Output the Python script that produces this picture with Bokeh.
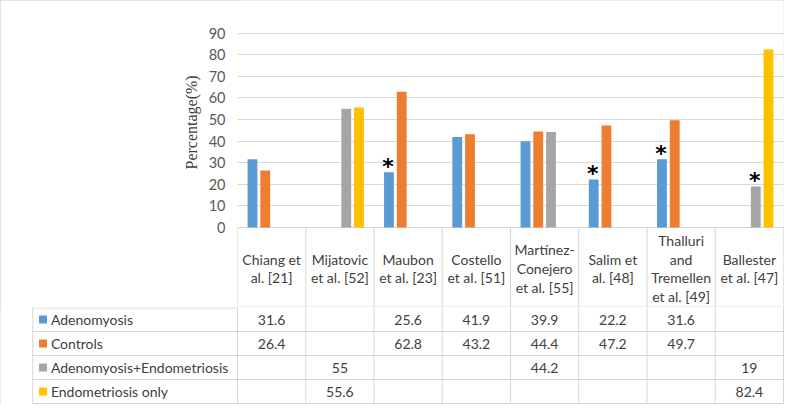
from bokeh.plotting import figure
from bokeh.models import Range1d, FixedTicker, Title
from bokeh.layouts import column
from bokeh.embed import file_html
from bokeh.resources import INLINE
from bokeh.core.properties import value

# ---------------- data ----------------
categories = [
    "Chiang et\nal. [21]",
    "Mijatovic\net al. [52]",
    "Maubon\net al. [23]",
    "Costello\net al. [51]",
    "Martínez-\nConejero\net al. [55]",
    "Salim et\nal. [48]",
    "Thalluri\nand\nTremellen\net al. [49]",
    "Ballester\net al. [47]",
]
series_names = ["Adenomyosis", "Controls", "Adenomyosis+Endometriosis", "Endometriosis only"]
adenomyosis = [31.6, None, 25.6, 41.9, 39.9, 22.2, 31.6, None]
controls = [26.4, None, 62.8, 43.2, 44.4, 47.2, 49.7, None]
adeno_endo = [None, 55, None, None, 44.2, None, None, 19]
endo_only = [None, 55.6, None, None, None, None, None, 82.4]
y_ticks = [0, 10, 20, 30, 40, 50, 60, 70, 80, 90]
sig_categories = [2, 5, 6, 7]
sig_series = [0, 0, 0, 2]

# ---------------- styling / layout constants ----------------
series_values = [adenomyosis, controls, adeno_endo, endo_only]
colors = ["#5B9BD5", "#ED7D31", "#A5A5A5", "#FFC000"]
FONT = "Lato"
TXT = "#404040"
LINE = "#D6D6D6"

W, H = 784, 404
LEFT = 237
n = len(categories)
FRAME_W = W - LEFT - 1
UX = FRAME_W / n
H0 = 227            # pixels from top to zero line
HEADER_PX = 80      # pixel height of the category header row
H1 = H0 + HEADER_PX
H2 = H - H1
PY = H0 / 105.1     # pixels per percentage unit
SLOT = 0.187
BAR_W = 0.144

# ---------------- bar chart + header row ----------------
p1 = figure(width=W, height=H1, x_range=Range1d(0, n),
            y_range=Range1d(-HEADER_PX / PY, 105.1),
            output_backend="svg", toolbar_location=None, x_axis_location=None,
            min_border_left=LEFT, min_border_right=1, min_border_top=0, min_border_bottom=0)
p1.frame_align = False
p1.outline_line_color = None
p1.xgrid.visible = False
p1.ygrid.grid_line_color = "#D9D9D9"
p1.yaxis.ticker = FixedTicker(ticks=y_ticks)
p1.yaxis.axis_line_color = None
p1.yaxis.major_tick_line_color = None
p1.yaxis.minor_tick_line_color = None
p1.yaxis.major_label_text_font = FONT
p1.yaxis.major_label_text_font_size = "14.5px"
p1.yaxis.major_label_text_color = "#595959"
p1.yaxis.major_label_standoff = 6
p1.border_fill_color = "white"

ylabel = Title(text="Percentage(%)", align="left", offset=138,
               text_font="Liberation Serif", text_font_style="normal",
               text_font_size="16px", text_color="#404040", standoff=12)
p1.add_layout(ylabel, "left")

hb = -HEADER_PX / PY
p1.segment(x0=list(range(n + 1)), y0=[hb] * (n + 1), x1=list(range(n + 1)),
           y1=[0] * (n + 1), line_color=LINE, line_width=1)
p1.segment(x0=[0, 0], y0=[0, hb + 0.5 / PY], x1=[n, n], y1=[0, hb + 0.5 / PY],
           line_color=LINE, line_width=1)

for j, vals in enumerate(series_values):
    xs = [i + 0.5 + (j - 1.5) * SLOT for i, v in enumerate(vals) if v is not None]
    tops = [v for v in vals if v is not None]
    p1.vbar(x=xs, top=tops, bottom=0, width=BAR_W, color=colors[j], line_color=None)

sx = [c + 0.5 + (s - 1.5) * SLOT for c, s in zip(sig_categories, sig_series)]
sy = [series_values[s][c] for c, s in zip(sig_categories, sig_series)]
p1.text(x=sx, y=sy, text=["*"] * len(sx), text_font=value("DejaVu Sans"),
        text_font_style="bold", text_font_size="22px", text_color="black",
        text_align="center", text_baseline="alphabetic", x_offset=-1, y_offset=-6)

p1.text(x=[i + 0.5 for i in range(n)], y=[-(HEADER_PX / 2 + 1) / PY] * n, text=categories,
        text_font=value(FONT), text_font_size="14px", text_color=TXT,
        text_align="center", text_baseline="middle", text_line_height=1.1)

# ---------------- data rows ----------------
nrows = len(series_names)
ROWS_BOTTOM = -(H2 / 24.0)
p2 = figure(width=W, height=H2, x_range=Range1d(-LEFT / UX, (W - LEFT) / UX),
            y_range=Range1d(ROWS_BOTTOM, 0), output_backend="svg", toolbar_location=None,
            x_axis_location=None, y_axis_location=None,
            min_border_left=0, min_border_right=0, min_border_top=0, min_border_bottom=0)
p2.frame_align = False
p2.outline_line_color = None
p2.xgrid.visible = False
p2.ygrid.visible = False
p2.border_fill_color = "white"

top_line = -0.5 / 24.0
x0s, y0s, x1s, y1s = [-3], [top_line], [0], [top_line]
for r in range(1, nrows + 1):
    x0s.append(-3); x1s.append(n); y0s.append(-r); y1s.append(-r)
for i in range(n + 1):
    x0s.append(i); x1s.append(i); y0s.append(-nrows); y1s.append(0)
x0s.append(-3); x1s.append(-3); y0s.append(-nrows); y1s.append(0)
p2.segment(x0=x0s, y0=y0s, x1=x1s, y1=y1s, line_color=LINE, line_width=1)

p2.scatter(x=[-3 + 10.5 / 69.6] * nrows, y=[-r - 0.5 for r in range(nrows)], marker="square",
           size=8, color=colors, line_color=None)
p2.text(x=[-3 + 18.5 / 69.6] * nrows, y=[-r - 0.5 for r in range(nrows)], text=series_names,
        text_font=value(FONT), text_font_size="14px", text_color=TXT,
        text_align="left", text_baseline="middle")

cx, cy, ct = [], [], []
for r, vals in enumerate(series_values):
    for i, v in enumerate(vals):
        if v is not None:
            cx.append(i + 0.5); cy.append(-r - 0.5); ct.append(f"{v:g}")
p2.text(x=cx, y=cy, text=ct, text_font=value(FONT), text_font_size="14px", text_color=TXT,
        text_align="center", text_baseline="middle")

layout = column(p1, p2, spacing=0,
                styles={"outline": "1px solid #D9D9D9", "outline-offset": "-1px"})

open("out.html", "w").write(file_html(layout, INLINE))
